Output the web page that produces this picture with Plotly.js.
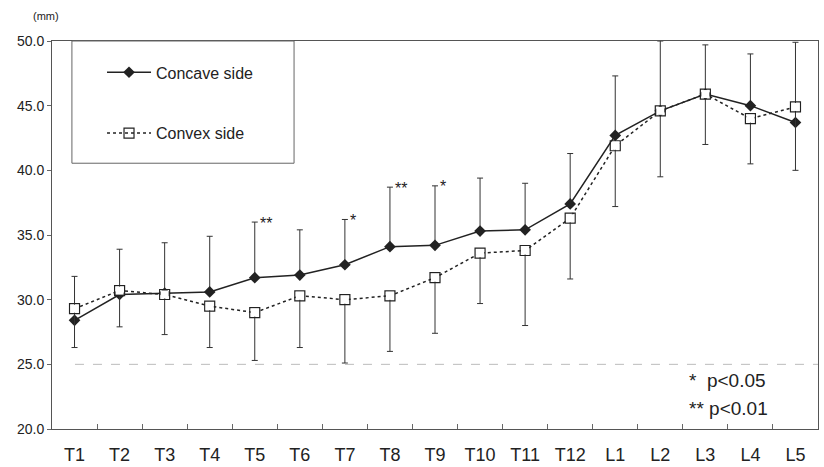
<!DOCTYPE html>
<html>
<head>
<meta charset="utf-8">
<script src="https://cdn.plot.ly/plotly-3.0.1.min.js"></script>
<style>html,body{margin:0;padding:0;background:#fff;}#chart{width:824px;height:467px;}</style>
</head>
<body>
<div id="chart"></div>
<script>
const levels = ["T1","T2","T3","T4","T5","T6","T7","T8","T9","T10","T11","T12","L1","L2","L3","L4","L5"];
const concave = [28.4,30.4,30.5,30.6,31.7,31.9,32.7,34.1,34.2,35.3,35.4,37.4,42.7,44.6,45.9,45.0,43.7];
const concaveUpper = [31.8,33.9,34.4,34.9,36.0,35.4,36.2,38.7,38.8,39.4,39.0,41.3,47.3,50.0,49.7,49.0,49.9];
const convex = [29.3,30.7,30.4,29.5,29.0,30.3,30.0,30.3,31.7,33.6,33.8,36.3,41.9,44.6,45.9,44.0,44.9];
const convexLower = [26.3,27.9,27.3,26.3,25.3,26.3,25.1,26.0,27.4,29.7,28.0,31.6,37.2,39.5,42.0,40.5,40.0];
const significance = ["","","","","**","","*","**","*","","","","","","","",""];
const noteLines = ["*  p<0.05","** p<0.01"];
const unitLabel = "(mm)";

const ink = "#222";
const fam = "Liberation Sans, Arial, sans-serif";
const upErr = concaveUpper.map((u,i)=>+(u-concave[i]).toFixed(2));
const downErr = convexLower.map((l,i)=>+(convex[i]-l).toFixed(2));

const traces = [
  {
    x: levels, y: concave, name: "Concave side", type: "scatter", mode: "lines+markers",
    line: {color: ink, width: 1.5},
    marker: {symbol: "diamond", size: 9, color: ink},
    error_y: {type: "data", symmetric: false, array: upErr, arrayminus: concave.map(()=>0), color: "#333", thickness: 1, width: 3},
    legendgroup: "a"
  },
  {
    x: levels, y: convex, name: "Convex side", type: "scatter", mode: "lines+markers",
    line: {color: ink, width: 1.5, dash: "dot"},
    marker: {symbol: "square-open", size: 10, color: ink, line: {width: 1.2}},
    error_y: {type: "data", symmetric: false, array: convex.map(()=>0), arrayminus: downErr, color: "#333", thickness: 1, width: 3},
    legendgroup: "b"
  },
  {
    x: levels, y: convex, type: "scatter", mode: "markers", showlegend: false, hoverinfo: "skip",
    marker: {symbol: "square", size: 8, color: "#fff"}
  }
];

const annotations = [];
significance.forEach((s,i)=>{
  if (s) annotations.push({x: levels[i], y: concaveUpper[i], xref: "x", yref: "y", text: s, showarrow: false,
    xanchor: "left", yanchor: "middle", xshift: 3, yshift: -1, font: {family: fam, size: 16, color: ink}});
});
annotations.push({x: 0.829, y: 0.124, xref: "paper", yref: "paper", text: noteLines[0], showarrow: false, xanchor: "left", yanchor: "middle",
  font: {family: fam, size: 19, color: ink}});
annotations.push({x: 0.829, y: 0.054, xref: "paper", yref: "paper", text: noteLines[1], showarrow: false, xanchor: "left", yanchor: "middle",
  font: {family: fam, size: 19, color: ink}});
annotations.push({x: -0.008, y: 1.065, xref: "paper", yref: "paper", text: unitLabel, showarrow: false, xanchor: "center", yanchor: "middle",
  font: {family: fam, size: 11, color: ink}});

const layout = {
  width: 824, height: 467,
  margin: {l: 52, r: 6, t: 41, b: 38},
  paper_bgcolor: "#fff", plot_bgcolor: "#fff",
  font: {family: fam, color: ink},
  showlegend: true,
  legend: {x: 0.0653, y: 0.963, xanchor: "left", yanchor: "top", bgcolor: "rgba(0,0,0,0)",
    font: {size: 16, color: ink}, traceorder: "grouped", tracegroupgap: 37, itemwidth: 44},
  xaxis: {
    type: "category", range: [-0.5, 16.5], showgrid: false, zeroline: false,
    showline: true, linecolor: "#555", linewidth: 1, mirror: true,
    ticks: "inside", tickson: "boundaries", ticklen: 5, tickcolor: "#666",
    tickfont: {size: 18, color: ink}, ticklabelstandoff: 9
  },
  yaxis: {
    range: [20, 50], dtick: 5, tickformat: ".1f", showgrid: false, zeroline: false,
    showline: true, linecolor: "#555", linewidth: 1, mirror: true,
    ticks: "outside", ticklen: 4, tickcolor: "#666",
    tickfont: {size: 14, color: ink}
  },
  shapes: [
    {type: "line", xref: "paper", yref: "y", x0: 0.03, x1: 1, y0: 25, y1: 25, line: {color: "#bbb", width: 1, dash: "dash"}},
    {type: "rect", xref: "paper", yref: "paper", x0: 0.026, x1: 0.316, y0: 0.685, y1: 1, line: {color: "#666", width: 1}}
  ],
  annotations: annotations
};

Plotly.newPlot("chart", traces, layout, {displayModeBar: false, staticPlot: true});
</script>
</body>
</html>
